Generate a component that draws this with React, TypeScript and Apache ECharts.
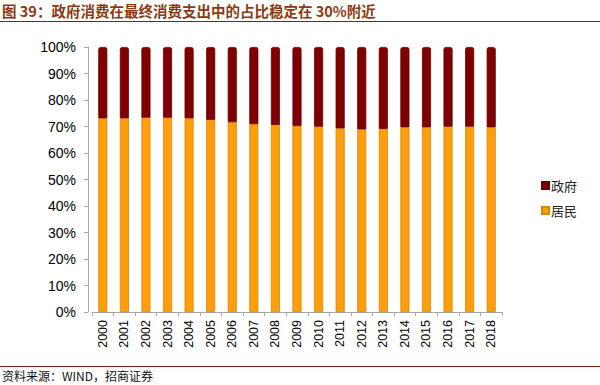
import React, { useEffect, useRef } from "react";
import * as echarts from "echarts";

const years = ["2000","2001","2002","2003","2004","2005","2006","2007","2008","2009","2010","2011","2012","2013","2014","2015","2016","2017","2018"];
const residents = [73.1,73.1,73.3,73.3,73.1,72.5,71.6,70.9,70.6,70.2,69.9,69.3,68.9,69.1,69.7,69.7,69.9,69.9,69.7];
const government = residents.map((v) => +(100 - v).toFixed(1));
const yTicks = [0, 10, 20, 30, 40, 50, 60, 70, 80, 90, 100];

const titleText = "图 39：政府消费在最终消费支出中的占比稳定在 30%附近";
const sourceText = "资料来源：WIND，招商证券";

export default function App() {
  const ref = useRef<HTMLDivElement>(null);
  useEffect(() => {
    if (!ref.current) return;
    const chart = echarts.init(ref.current, undefined, { renderer: "svg" });
    chart.setOption({
      animation: false,
      backgroundColor: "#fff",
      textStyle: { fontFamily: "Liberation Sans, Arial, sans-serif" },
      grid: { left: 92, right: 98, top: 47, bottom: 73, containLabel: false },
      legend: {
        orient: "vertical",
        left: 536,
        top: 174,
        itemWidth: 7,
        itemHeight: 7,
        itemGap: 12,
        icon: "rect",
        data: ["政府", "居民"],
        textStyle: { fontFamily: "Noto Sans CJK SC", fontSize: 13, color: "#222", padding: [0, 0, 0, -3] },
      },
      xAxis: {
        type: "category",
        data: years,
        axisLine: { show: true, lineStyle: { color: "#A6A6A6", width: 1 } },
        axisTick: { show: true, alignWithLabel: false, length: 4, lineStyle: { color: "#A6A6A6" } },
        axisLabel: { rotate: 90, fontSize: 12.5, color: "#000", margin: 8, interval: 0 },
      },
      yAxis: {
        type: "value",
        min: 0,
        max: 100,
        interval: 10,
        offset: 4,
        axisLine: { show: true, lineStyle: { color: "#A6A6A6", width: 1 } },
        axisTick: { show: true, length: 4, lineStyle: { color: "#A6A6A6" } },
        splitLine: { show: false },
        axisLabel: { formatter: (v: number) => (yTicks.includes(v) ? v + "%" : ""), fontSize: 14, color: "#000", margin: 12 },
      },
      series: [
        {
          name: "居民",
          type: "bar",
          stack: "total",
          barWidth: "42%",
          data: residents,
          itemStyle: { color: "#FF9E0D", borderColor: "#D98700", borderWidth: 0.8 },
        },
        {
          name: "政府",
          type: "bar",
          stack: "total",
          barWidth: "42%",
          data: government,
          itemStyle: { color: "#7F0000", borderColor: "#6A0000", borderWidth: 0.8, borderRadius: [2, 2, 0, 0] },
        },
      ],
      graphic: [
        {
          type: "text",
          left: 2,
          top: 3,
          style: { text: titleText, fontFamily: "Noto Sans CJK SC", fontSize: 14.5, fontWeight: "bold", fill: "#8B3A12" },
        },
        { type: "line", shape: { x1: 0, y1: 21.5, x2: 600, y2: 21.5 }, style: { stroke: "#8B1A1A", lineWidth: 1.2 } },
        { type: "line", shape: { x1: 0, y1: 366.5, x2: 600, y2: 366.5 }, style: { stroke: "#8B1A1A", lineWidth: 1.2 } },
        {
          type: "text",
          left: 2,
          top: 369,
          style: { text: sourceText, fontFamily: "Noto Sans CJK SC", fontSize: 12, fill: "#111" },
        },
      ],
    });
    return () => chart.dispose();
  }, []);
  return <div ref={ref} style={{ width: 600, height: 385, position: "absolute", left: 0, top: 0 }} />;
}
